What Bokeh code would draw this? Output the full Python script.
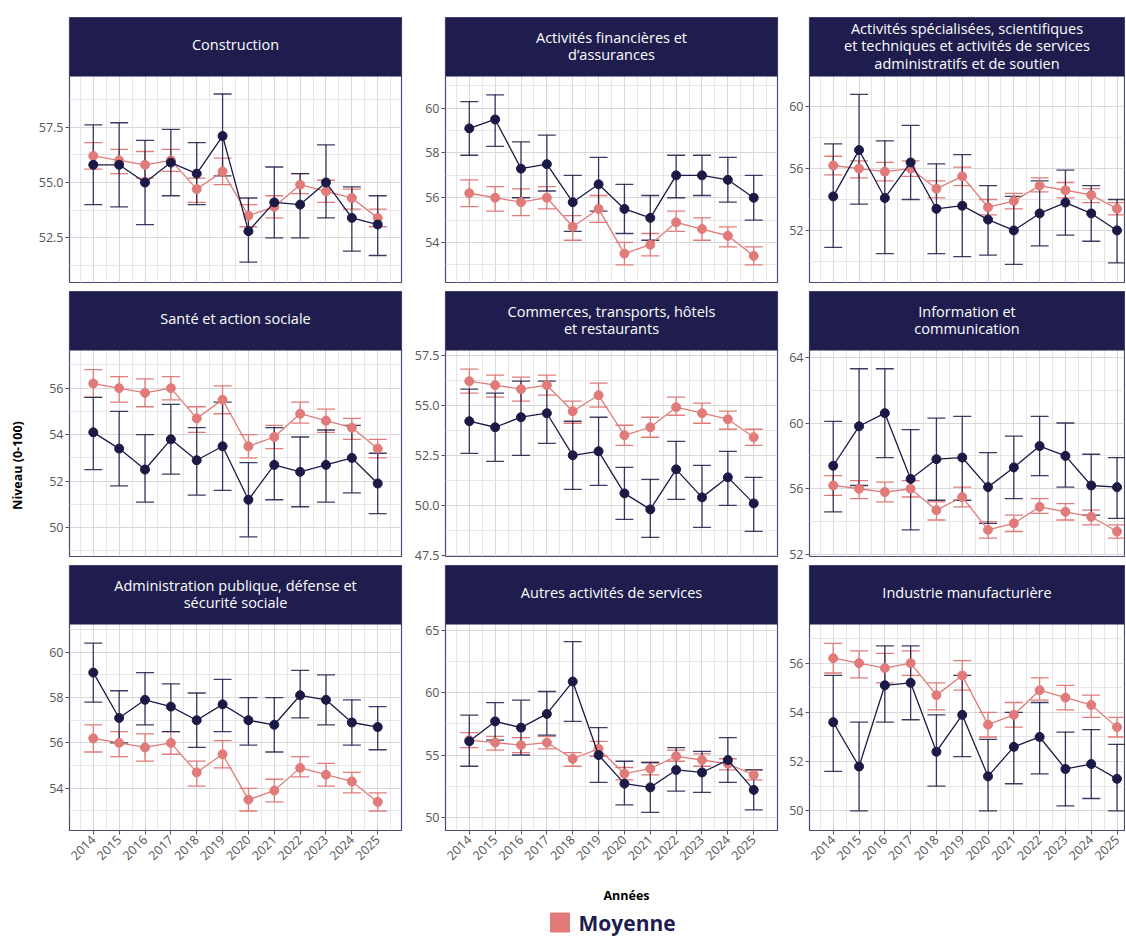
import math
from bokeh.plotting import figure
from bokeh.models import (ColumnDataSource, Whisker, TeeHead, FixedTicker,
                          BoxAnnotation, Label, Range1d)
from bokeh.layouts import row, column
from bokeh.embed import file_html
from bokeh.resources import INLINE

# ---------------- data ----------------
years = list(range(2014, 2026))
year_labels = [str(y) for y in years]

moyenne = [56.2, 56.0, 55.8, 56.0, 54.7, 55.5, 53.5, 53.9, 54.9, 54.6, 54.3, 53.4]
moyenne_low = [55.6, 55.4, 55.2, 55.5, 54.1, 54.9, 53.0, 53.4, 54.5, 54.1, 53.8, 53.0]
moyenne_high = [56.8, 56.5, 56.4, 56.5, 55.2, 56.1, 54.0, 54.4, 55.4, 55.1, 54.7, 53.8]

construction = [55.8, 55.8, 55.0, 55.9, 55.4, 57.1, 52.8, 54.1, 54.0, 55.0, 53.4, 53.1]
construction_low = [54.0, 53.9, 53.1, 54.4, 54.0, 55.3, 51.4, 52.5, 52.5, 53.4, 51.9, 51.7]
construction_high = [57.6, 57.7, 56.9, 57.4, 56.8, 59.0, 54.3, 55.7, 55.4, 56.7, 54.8, 54.4]

finance = [59.1, 59.5, 57.3, 57.5, 55.8, 56.6, 55.5, 55.1, 57.0, 57.0, 56.8, 56.0]
finance_low = [57.9, 58.3, 56.0, 56.3, 54.5, 55.4, 54.4, 54.1, 56.0, 56.1, 55.8, 55.0]
finance_high = [60.3, 60.6, 58.5, 58.8, 57.0, 57.8, 56.6, 56.1, 57.9, 57.9, 57.8, 57.0]

specialisees = [54.2, 57.2, 54.1, 56.4, 53.4, 53.6, 52.7, 52.0, 53.1, 53.8, 53.1, 52.0]
specialisees_low = [50.9, 53.7, 50.5, 54.0, 50.5, 50.3, 50.4, 49.8, 51.0, 51.7, 51.3, 49.9]
specialisees_high = [57.6, 60.8, 57.8, 58.8, 56.3, 56.9, 54.9, 54.2, 55.2, 55.9, 54.9, 54.0]

sante = [54.1, 53.4, 52.5, 53.8, 52.9, 53.5, 51.2, 52.7, 52.4, 52.7, 53.0, 51.9]
sante_low = [52.5, 51.8, 51.1, 52.3, 51.4, 51.6, 49.6, 51.2, 50.9, 51.1, 51.5, 50.6]
sante_high = [55.6, 55.0, 54.0, 55.3, 54.3, 55.4, 52.8, 54.3, 53.9, 54.2, 54.4, 53.2]

commerces = [54.2, 53.9, 54.4, 54.6, 52.5, 52.7, 50.6, 49.8, 51.8, 50.4, 51.4, 50.1]
commerces_low = [52.6, 52.2, 52.5, 53.1, 50.8, 51.0, 49.3, 48.4, 50.3, 48.9, 50.0, 48.7]
commerces_high = [55.8, 55.6, 56.2, 56.2, 54.2, 54.4, 51.9, 51.3, 53.2, 52.0, 52.7, 51.4]

information = [57.4, 59.8, 60.6, 56.6, 57.8, 57.9, 56.1, 57.3, 58.6, 58.0, 56.2, 56.1]
information_low = [54.6, 56.2, 57.9, 53.5, 55.3, 55.3, 53.9, 55.4, 56.8, 56.1, 54.4, 54.2]
information_high = [60.1, 63.3, 63.3, 59.6, 60.3, 60.4, 58.2, 59.2, 60.4, 60.0, 58.1, 57.9]

administration = [59.1, 57.1, 57.9, 57.6, 57.0, 57.7, 57.0, 56.8, 58.1, 57.9, 56.9, 56.7]
administration_low = [57.8, 56.0, 56.8, 56.5, 55.8, 56.5, 55.9, 55.6, 57.1, 56.8, 55.9, 55.7]
administration_high = [60.4, 58.3, 59.1, 58.6, 58.2, 58.8, 58.0, 58.0, 59.2, 59.0, 57.9, 57.6]

autres = [56.1, 57.7, 57.2, 58.3, 60.9, 55.0, 52.7, 52.4, 53.8, 53.6, 54.6, 52.2]
autres_low = [54.1, 56.2, 55.0, 56.6, 57.7, 52.8, 51.0, 50.4, 52.1, 52.0, 52.8, 50.6]
autres_high = [58.2, 59.2, 59.4, 60.1, 64.1, 57.2, 54.5, 54.4, 55.6, 55.3, 56.4, 53.8]

industrie = [53.6, 51.8, 55.1, 55.2, 52.4, 53.9, 51.4, 52.6, 53.0, 51.7, 51.9, 51.3]
industrie_low = [51.6, 50.0, 53.6, 53.7, 51.0, 52.2, 50.0, 51.1, 51.5, 50.2, 50.5, 50.0]
industrie_high = [55.5, 53.6, 56.7, 56.7, 53.9, 55.5, 52.9, 54.0, 54.4, 53.2, 53.3, 52.7]

titles = [
    "Construction",
    "Activités financières et\nd’assurances",
    "Activités spécialisées, scientifiques\net techniques et activités de services\nadministratifs et de soutien",
    "Santé et action sociale",
    "Commerces, transports, hôtels\net restaurants",
    "Information et\ncommunication",
    "Administration publique, défense et\nsécurité sociale",
    "Autres activités de services",
    "Industrie manufacturière",
]
series = [
    (construction, construction_low, construction_high),
    (finance, finance_low, finance_high),
    (specialisees, specialisees_low, specialisees_high),
    (sante, sante_low, sante_high),
    (commerces, commerces_low, commerces_high),
    (information, information_low, information_high),
    (administration, administration_low, administration_high),
    (autres, autres_low, autres_high),
    (industrie, industrie_low, industrie_high),
]
# axis settings per panel: (y range, major ticks, minor ticks)
axes_cfg = [
    ((50.48, 59.79), [52.5, 55.0, 57.5], [51.25, 53.75, 56.25, 58.75]),
    ((52.21, 61.42), [54, 56, 58, 60], [53, 55, 57, 59, 61]),
    ((48.63, 61.96), [52, 56, 60], [50, 54, 58]),
    ((48.76, 57.62), [50, 52, 54, 56], [49, 51, 53, 55, 57]),
    ((47.45, 57.73), [47.5, 50.0, 52.5, 55.0, 57.5], [48.75, 51.25, 53.75, 56.25]),
    ((51.88, 64.41), [52, 56, 60, 64], [54, 58, 62]),
    ((52.14, 61.22), [54, 56, 58, 60], [53, 55, 57, 59, 61]),
    ((48.94, 65.48), [50, 55, 60, 65], [52.5, 57.5, 62.5]),
    ((49.2, 57.57), [50, 52, 54, 56], [51, 53, 55, 57]),
]
tick_fmt = [
    {52.5: "52.5", 55.0: "55.0", 57.5: "57.5"}, None, None, None,
    {47.5: "47.5", 50.0: "50.0", 52.5: "52.5", 55.0: "55.0", 57.5: "57.5"},
    None, None, None, None,
]

# ---------------- style ----------------
NAVY = "#1e1d4e"
DARK = "#1b1a47"
PINK = "#e07b7a"
BORDER = "#4a4a72"
GRID_MAJOR = "#d9d9d9"
GRID_MINOR = "#e6e6e6"
FONT = "Open Sans"
TICK_FS = "12.5px"

STRIP_H = 59
DATA_H = 206
XR = [(2013.08, 2025.92), (2013.08, 2025.92), (2013.08, 2025.29)]
FW = [332, 332, 315]
MBL = [38, 42, 30]
MBR = [2, 2, 1]
MBT = [17, 8, 2]
MBB = [1, 7, 50]


def add_series(p, vals, lows, highs, color, alpha):
    src = ColumnDataSource(dict(x=years, y=vals, lower=lows, upper=highs))
    w = Whisker(source=src, base="x", upper="upper", lower="lower",
                line_color=color, line_width=1.3, line_alpha=alpha, level="underlay",
                upper_head=TeeHead(size=18, line_color=color, line_width=1.3, line_alpha=alpha),
                lower_head=TeeHead(size=18, line_color=color, line_width=1.3, line_alpha=alpha))
    p.add_layout(w)
    p.line("x", "y", source=src, line_color=color, line_width=1.3)
    p.scatter("x", "y", source=src, size=9, fill_color=color, line_color=color)


def make_panel(i):
    r, c = divmod(i, 3)
    (lo, hi), ticks, minor = axes_cfg[i]
    unit = (hi - lo) / DATA_H
    ext = unit * STRIP_H
    x0, x1 = XR[c]
    p = figure(frame_width=FW[c], frame_height=STRIP_H + DATA_H,
               x_range=Range1d(x0, x1), y_range=Range1d(lo, hi + ext),
               x_axis_location=("below" if r == 2 else None),
               min_border_left=MBL[c], min_border_right=MBR[c],
               min_border_top=MBT[r], min_border_bottom=MBB[r],
               output_backend="svg", toolbar_location=None)
    p.background_fill_color = "white"
    p.border_fill_color = "white"
    p.outline_line_color = BORDER
    p.outline_line_width = 1.2

    yt = FixedTicker(ticks=ticks, minor_ticks=minor)
    xt = FixedTicker(ticks=years, minor_ticks=[y + 0.5 for y in [years[0] - 1] + years])
    p.yaxis.ticker = yt
    p.ygrid.ticker = yt
    p.xgrid.ticker = xt
    for g in (p.xgrid, p.ygrid):
        g.grid_line_color = GRID_MAJOR
        g.grid_line_width = 1
        g.minor_grid_line_color = GRID_MINOR
        g.minor_grid_line_width = 1

    ya = p.yaxis[0]
    ya.axis_line_color = None
    ya.major_tick_out = 4
    ya.major_tick_in = 0
    ya.major_tick_line_color = "#555555"
    ya.minor_tick_line_color = None
    ya.major_label_standoff = 2
    ya.major_label_text_font = FONT
    ya.major_label_text_font_size = TICK_FS
    ya.major_label_text_color = "#555555"
    if tick_fmt[i]:
        ya.major_label_overrides = tick_fmt[i]

    if r == 2:
        xa = p.xaxis[0]
        xa.ticker = xt
        xa.axis_line_color = None
        xa.major_tick_out = 4
        xa.major_tick_in = 0
        xa.major_tick_line_color = "#555555"
        xa.minor_tick_line_color = None
        xa.major_label_standoff = 3
        xa.major_label_orientation = math.pi / 4
        xa.major_label_text_font = FONT
        xa.major_label_text_font_size = TICK_FS
        xa.major_label_text_color = "#555555"
        xa.major_label_overrides = {y: s for y, s in zip(years, year_labels)}

    add_series(p, moyenne, moyenne_low, moyenne_high, PINK, 1.0)
    vals, lows, highs = series[i]
    add_series(p, vals, lows, highs, DARK, 0.85)

    strip = BoxAnnotation(bottom=hi, fill_color=NAVY, fill_alpha=1.0,
                          line_color=None, level="annotation")
    p.add_layout(strip)
    nlines = titles[i].count("\n") + 1
    shift = 2.5 if nlines == 1 else 1.0
    lab = Label(x=(x0 + x1) / 2, y=hi + ext / 2 + unit * shift, text=titles[i],
                text_align="center", text_baseline="middle",
                text_color="white", text_font=FONT, text_font_size="14.5px",
                text_line_height=0.92)
    p.add_layout(lab)
    return p


panels = [make_panel(i) for i in range(9)]
grid = column(row(*panels[0:3]), row(*panels[3:6]), row(*panels[6:9]))

GRID_H = sum(MBT[k] + STRIP_H + DATA_H + MBB[k] for k in range(3))
YL_W = 31

# y axis title
yl = figure(width=YL_W, height=GRID_H, x_range=(0, YL_W), y_range=(0, GRID_H),
            x_axis_location=None, y_axis_location=None, min_border=0,
            output_backend="svg", toolbar_location=None)
yl.outline_line_color = None
yl.grid.visible = False
yl.add_layout(Label(x=17, y=GRID_H - 465, text="Niveau (0-100)", angle=math.pi / 2,
                    text_align="center", text_baseline="middle", text_color="black",
                    text_font=FONT, text_font_size="12.5px", text_font_style="bold"))

# bottom: x title + legend
BW = 1125
BH = 56
bt = figure(width=BW, height=BH, x_range=(0, BW), y_range=(0, BH),
            x_axis_location=None, y_axis_location=None, min_border=0,
            output_backend="svg", toolbar_location=None)
bt.outline_line_color = None
bt.grid.visible = False
bt.add_layout(Label(x=626, y=BH - 15, text="Années", text_align="center",
                    text_baseline="middle", text_color="black", text_font=FONT,
                    text_font_size="12.5px", text_font_style="bold"))
bt.scatter([559.5], [14], marker="square", size=19, fill_color=PINK, line_color=PINK)
bt.add_layout(Label(x=578, y=14, text="Moyenne", text_align="left",
                    text_baseline="middle", text_color=NAVY, text_font=FONT,
                    text_font_size="21px", text_font_style="bold"))

layout = column(row(yl, grid), bt)

open("out.html", "w").write(file_html(layout, INLINE))
